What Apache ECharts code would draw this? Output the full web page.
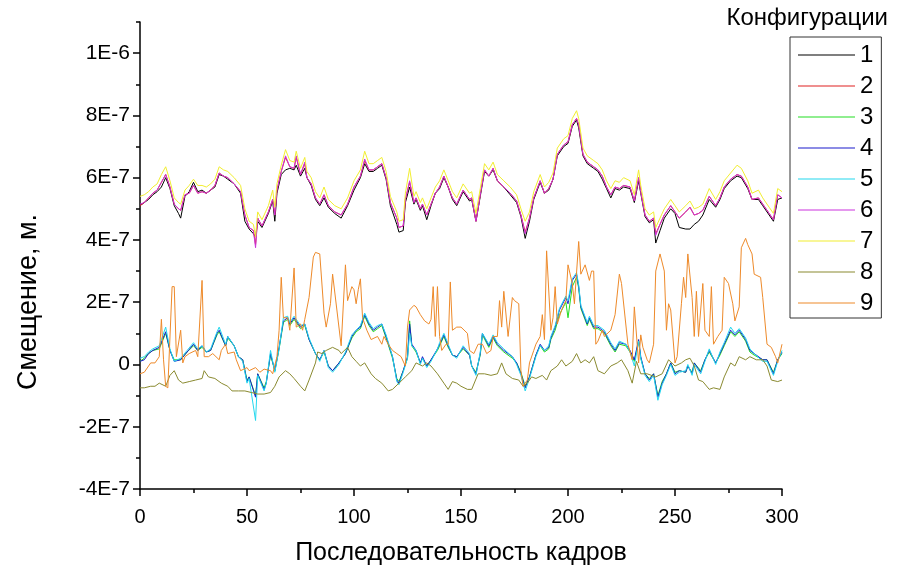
<!DOCTYPE html>
<html>
<head>
<meta charset="utf-8">
<script src="https://cdn.jsdelivr.net/npm/echarts@6/dist/echarts.min.js"></script>
<style>
html,body{margin:0;padding:0;background:#fff;}
#chart{width:903px;height:571px;}
</style>
</head>
<body>
<div id="chart"></div>
<script>
// Values are displacement in units of 1E-7 m; x is the frame number.
const seriesNames = ['1','2','3','4','5','6','7','8','9'];
const xTicks = [0, 50, 100, 150, 200, 250, 300];
const yMajorTicks = [-4, -2, 0, 2, 4, 6, 8, 10];
const yMinorTicks = [-3, -1, 1, 3, 5, 7, 9, 11];

const framesUp = [
 0,2,4,6,8,10,12,14,16,18,
 19,21,23,25,27,29,31,33,35,37,
 39,41,44,47,49,51,53,54,55,57,
 60,62,63,64,66,68,70,72,73,75,
 77,78,80,82,84,86,88,91,94,97,
 100,103,105,107,109,111,113,115,117,120,
 121,123,124,126,128,129,131,132,134,136,
 138,140,142,144,146,148,151,154,155,157,
 159,161,163,165,167,170,173,176,178,180,
 182,184,187,189,191,193,195,198,200,202,
 204,205,207,209,212,214,216,218,220,222,
 224,226,229,231,233,234,236,238,240,241,
 243,245,248,250,252,255,257,259,261,263,
 266,269,271,273,276,279,281,284,286,289,
 291,294,296,298,300];

const s1 = [
 5.1,5.2,5.3,5.45,5.55,5.7,6.0,5.65,5.1,4.85,
 4.7,5.4,5.55,5.85,5.55,5.6,5.5,5.6,5.7,6.1,
 6.05,5.95,5.8,5.5,4.6,4.35,4.2,4.1,4.6,4.4,
 4.85,5.25,4.6,5.5,6.1,6.25,6.3,6.25,6.4,6.05,
 6.3,6.0,5.75,5.3,5.1,5.35,5.05,4.85,4.7,5.1,
 5.6,6.0,6.45,6.2,6.2,6.3,6.4,5.95,5.1,4.5,
 4.25,4.3,5.2,5.7,5.15,5.3,4.95,5.1,4.65,5.1,
 5.5,5.65,6.0,5.7,5.3,5.1,5.55,5.25,5.3,4.6,
 5.4,6.2,6.05,6.25,5.9,5.7,5.45,5.2,4.75,4.05,
 4.6,5.3,5.85,5.5,5.6,5.95,6.7,7.0,7.1,7.65,
 7.85,7.6,6.7,6.45,6.3,6.2,5.95,5.65,5.35,5.65,
 5.6,5.7,5.65,5.2,5.9,5.5,4.75,4.55,4.65,3.9,
 4.3,4.7,5.0,4.85,4.4,4.35,4.35,4.5,4.6,4.8,
 5.3,5.05,5.3,5.65,5.9,6.05,6.0,5.65,5.3,5.3,
 5.1,4.8,4.6,5.3,5.35];

const s2 = [
 5.1,5.2,5.35,5.5,5.6,5.85,6.1,5.7,5.15,5.0,
 4.95,5.45,5.5,5.75,5.5,5.55,5.5,5.6,5.75,6.15,
 6.05,6.0,5.8,5.55,4.8,4.4,4.3,3.85,4.7,4.45,
 4.9,5.3,4.8,5.6,6.2,6.65,6.35,6.3,6.65,6.1,
 6.45,6.0,5.8,5.35,5.15,5.45,5.1,4.9,4.8,5.15,
 5.7,6.05,6.55,6.25,6.25,6.35,6.45,6.0,5.2,4.7,
 4.4,4.45,5.3,5.85,5.2,5.35,5.0,5.15,4.8,5.15,
 5.5,5.7,6.05,5.7,5.35,5.15,5.6,5.3,5.35,4.6,
 5.45,6.25,6.05,6.3,5.9,5.7,5.5,5.25,4.8,4.25,
 4.7,5.35,5.9,5.5,5.65,5.95,6.75,7.05,7.15,7.7,
 7.9,7.7,6.75,6.5,6.35,6.25,6.05,5.7,5.45,5.7,
 5.65,5.75,5.7,5.25,6.0,5.55,4.8,4.6,4.7,4.2,
 4.5,4.8,5.1,4.9,4.7,4.9,5.05,4.8,4.85,4.95,
 5.4,5.1,5.35,5.7,5.95,6.1,6.05,5.7,5.3,5.35,
 5.15,4.85,4.65,5.45,5.35];

const s6 = [
 5.15,5.2,5.35,5.5,5.6,5.85,6.1,5.7,5.15,5.0,
 4.95,5.45,5.5,5.75,5.5,5.55,5.5,5.6,5.75,6.15,
 6.05,6.0,5.8,5.55,4.8,4.4,4.3,3.75,4.7,4.45,
 4.9,5.3,4.8,5.6,6.2,6.7,6.35,6.3,6.7,6.1,
 6.5,6.0,5.8,5.35,5.15,5.45,5.1,4.9,4.8,5.15,
 5.7,6.05,6.6,6.25,6.25,6.35,6.45,6.0,5.2,4.7,
 4.4,4.45,5.3,5.9,5.2,5.35,5.0,5.15,4.8,5.15,
 5.5,5.7,6.05,5.7,5.35,5.15,5.6,5.3,5.35,4.6,
 5.45,6.25,6.05,6.3,5.9,5.7,5.5,5.25,4.8,4.2,
 4.7,5.35,5.9,5.5,5.65,5.95,6.75,7.05,7.15,7.7,
 7.9,7.7,6.75,6.5,6.35,6.25,6.05,5.7,5.45,5.7,
 5.65,5.75,5.7,5.25,6.0,5.55,4.8,4.6,4.7,4.15,
 4.5,4.8,5.1,4.9,4.7,4.9,5.05,4.8,4.85,4.95,
 5.4,5.1,5.35,5.7,5.95,6.1,6.05,5.7,5.3,5.35,
 5.15,4.85,4.65,5.45,5.35];

const s7 = [
 5.4,5.45,5.55,5.7,5.8,6.1,6.35,5.9,5.35,5.2,
 5.15,5.6,5.75,5.95,5.75,5.75,5.7,5.8,5.95,6.35,
 6.25,6.2,6.0,5.75,5.0,4.6,4.5,4.1,4.9,4.65,
 5.1,5.6,5.05,5.8,6.4,6.9,6.55,6.5,6.85,6.3,
 6.65,6.2,6.0,5.55,5.35,5.7,5.3,5.1,5.0,5.35,
 5.9,6.25,6.85,6.45,6.45,6.55,6.65,6.2,5.4,4.9,
 4.6,4.65,5.5,6.3,5.4,5.55,5.2,5.35,5.0,5.35,
 5.7,5.9,6.25,5.9,5.55,5.35,5.8,5.5,5.55,4.85,
 5.65,6.45,6.25,6.5,6.1,5.9,5.7,5.45,5.0,4.6,
 4.9,5.55,6.1,5.7,5.85,6.15,6.95,7.25,7.35,7.9,
 8.15,7.9,6.95,6.7,6.55,6.45,6.25,5.9,5.65,5.9,
 5.85,6.0,5.9,5.45,6.25,5.75,5.0,4.8,4.9,4.4,
 4.7,5.0,5.3,5.1,4.9,5.1,5.25,5.0,5.05,5.15,
 5.65,5.3,5.55,5.9,6.15,6.4,6.3,5.9,5.5,5.6,
 5.35,5.05,4.85,5.65,5.55];

const framesLow = [
 0,2,4,6,9,12,14,16,19,22,
 25,27,29,31,33,36,37,40,41,44,
 46,48,50,51,54,55,58,59,61,63,
 65,67,69,70,72,75,77,79,82,84,
 86,88,90,93,96,99,101,103,105,107,
 109,111,113,115,118,120,121,123,125,126,
 127,129,131,132,134,136,139,140,142,144,
 146,148,151,154,155,157,159,160,163,165,
 167,170,174,176,178,180,182,185,187,189,
 191,192,194,196,199,200,202,204,205,206,
 209,210,212,214,217,220,222,224,227,229,
 231,233,234,236,238,240,242,244,246,248,
 250,252,255,256,258,259,262,264,266,269,
 271,273,276,278,280,283,285,287,291,293,
 296,298,300];

const s3 = [
 0.1,0.2,0.35,0.45,0.5,1.0,0.45,0.15,0.15,0.4,
 0.6,0.45,0.55,0.4,0.45,0.95,1.05,0.6,0.85,0.6,
 0.25,0.15,-0.5,-0.4,-1.0,-0.3,-0.75,-0.55,0.3,-0.2,
 0.5,1.35,1.45,1.25,1.45,1.15,1.25,0.8,0.35,0.15,
 0.4,-0.05,-0.2,0.05,0.35,0.85,1.05,1.15,1.55,1.25,
 1.05,1.15,1.25,0.85,0.2,-0.45,-0.55,-0.2,0.2,1.4,
 0.6,0.4,0.05,0.2,-0.05,0.15,0.45,0.6,0.9,0.55,
 0.3,0.25,0.5,0.3,-0.05,-0.25,0.3,0.95,0.55,0.85,
 0.6,0.4,0.2,0.05,-0.25,-0.7,-0.4,0.3,0.6,0.4,
 0.5,0.8,1.1,1.6,2.0,1.5,2.5,2.8,2.45,1.8,
 1.25,1.45,1.15,1.15,1.0,0.6,0.4,0.65,0.6,0.4,
 0.1,0.75,0.2,-0.3,-0.45,-0.3,-1.0,-0.55,-0.3,0.05,
 -0.25,-0.2,-0.25,-0.05,-0.25,0.05,-0.2,0.15,0.4,0.05,
 0.3,0.6,1.05,0.9,1.05,0.75,0.4,0.3,0.15,0.15,
 -0.25,0.15,0.35];

const s4 = [
 0.1,0.15,0.35,0.45,0.55,1.05,0.45,0.1,0.15,0.4,
 0.65,0.45,0.6,0.4,0.45,1.0,1.1,0.6,0.9,0.6,
 0.25,0.15,-0.55,-0.4,-1.05,-0.3,-0.8,-0.6,0.35,-0.2,
 0.55,1.4,1.5,1.3,1.5,1.2,1.3,0.8,0.35,0.15,
 0.45,-0.05,-0.2,0.05,0.35,0.9,1.1,1.2,1.6,1.3,
 1.1,1.2,1.3,0.9,0.25,-0.5,-0.6,-0.2,0.25,1.3,
 0.65,0.45,0.05,0.25,-0.05,0.15,0.5,0.65,0.95,0.6,
 0.3,0.25,0.55,0.3,-0.05,-0.3,0.35,1.0,0.6,0.9,
 0.65,0.45,0.25,0.05,-0.3,-0.75,-0.4,0.3,0.65,0.45,
 0.55,0.85,1.2,1.75,2.15,1.95,2.7,2.9,2.5,1.85,
 1.3,1.5,1.2,1.2,1.05,0.65,0.45,0.7,0.65,0.45,
 0.15,0.8,0.25,-0.3,-0.5,-0.3,-1.05,-0.6,-0.3,0.05,
 -0.3,-0.2,-0.25,-0.05,-0.3,0.05,-0.25,0.15,0.45,0.05,
 0.35,0.65,1.1,0.95,1.1,0.8,0.45,0.35,0.15,0.15,
 -0.3,0.15,0.4];

const s5 = [
 0.2,0.25,0.4,0.5,0.6,1.2,0.5,0.1,0.2,0.45,
 0.7,0.5,0.6,0.4,0.5,1.05,1.2,0.65,0.9,0.6,
 0.25,0.1,-0.6,-0.45,-1.8,-0.35,-0.85,-0.6,0.45,-0.25,
 0.5,1.5,1.55,1.35,1.55,1.25,1.3,0.85,0.35,0.1,
 0.45,-0.1,-0.25,0.0,0.4,0.95,1.1,1.25,1.65,1.35,
 1.15,1.25,1.3,0.95,0.25,-0.55,-0.65,-0.25,0.2,1.0,
 0.6,0.45,0.0,0.2,-0.1,0.1,0.5,0.7,1.0,0.65,
 0.3,0.2,0.6,0.35,-0.05,-0.35,0.4,1.0,0.65,0.95,
 0.7,0.5,0.25,0.0,-0.35,-0.85,-0.45,0.25,0.6,0.45,
 0.6,0.9,1.25,1.8,2.2,2.05,2.75,2.95,2.55,1.9,
 1.35,1.55,1.25,1.25,1.1,0.7,0.5,0.75,0.65,0.4,
 -0.05,0.75,0.2,-0.35,-0.55,-0.35,-1.15,-0.65,-0.35,0.0,
 -0.35,-0.25,-0.2,0.0,-0.35,0.0,-0.3,0.1,0.5,0.0,
 0.4,0.7,1.2,1.0,1.15,0.85,0.5,0.35,0.1,0.1,
 -0.35,0.1,0.45];

const framesS8 = [
 0,2,5,7,9,12,14,16,18,20,
 23,26,29,30,32,35,38,41,43,46,
 49,52,55,58,61,63,65,68,70,72,
 75,77,79,82,83,85,87,90,93,94,
 97,99,101,103,105,108,110,113,116,118,
 121,124,127,129,132,134,136,139,142,144,
 146,148,150,153,155,158,161,164,167,169,
 171,174,177,179,181,183,185,188,190,192,
 195,197,199,202,204,206,208,210,212,214,
 217,220,223,225,228,230,232,234,237,241,
 244,247,250,253,255,257,259,261,263,266,
 268,271,273,276,278,280,283,285,288,291,
 293,295,298,300];

const s8 = [
 -0.75,-0.75,-0.7,-0.7,-0.6,-0.7,-0.35,-0.2,-0.5,-0.6,
 -0.55,-0.5,-0.45,-0.2,-0.4,-0.45,-0.6,-0.7,-0.85,-0.85,
 -0.85,-0.9,-0.95,-0.95,-0.9,-0.7,-0.4,-0.2,-0.3,-0.45,
 -0.7,-0.85,-0.5,0.05,0.4,0.35,0.45,0.55,0.45,0.35,
 0.55,0.25,0.1,-0.05,0.05,-0.3,-0.45,-0.6,-0.85,-0.8,
 -0.6,-0.4,-0.2,0.05,-0.05,0.05,-0.05,-0.3,-0.6,-0.8,
 -0.55,-0.6,-0.7,-0.8,-0.8,-0.3,-0.3,-0.35,-0.3,0.05,
 -0.3,-0.45,-0.5,-0.7,-0.6,-0.4,-0.45,-0.35,-0.5,-0.2,
 -0.05,0.15,-0.05,0.1,0.35,0.05,0.15,0.05,0.25,-0.2,
 -0.3,-0.05,0.05,0.15,-0.2,-0.6,0.1,-0.3,-0.3,-0.4,
 -0.3,0.15,-0.05,0.05,0.15,0.2,-0.05,-0.5,-0.55,-0.8,
 -0.75,-0.8,-0.4,0.05,-0.05,0.25,0.15,0.25,0.15,0.15,
 -0.05,-0.5,-0.55,-0.5];

const framesS9 = [
 0,2,5,7,9,10,11,12,13,15,
 16,17,19,20,21,23,26,27,29,30,
 32,34,37,38,40,41,44,45,47,50,
 51,54,56,58,61,62,64,65,66,67,
 69,70,72,73,75,76,77,79,81,82,
 84,86,87,89,90,92,94,96,97,99,
 100,101,102,103,104,106,108,111,113,114,
 116,118,120,122,124,125,126,128,129,131,
 133,135,136,137,138,139,140,141,143,144,
 145,146,148,150,153,154,156,158,160,162,
 164,165,167,168,169,170,172,174,175,177,
 178,179,181,182,184,185,187,188,189,190,
 192,193,194,195,197,199,200,202,203,205,
 206,208,210,211,212,213,214,216,217,220,
 222,224,225,227,228,230,231,233,234,235,
 237,238,240,241,243,245,246,247,248,250,
 251,253,254,255,256,258,259,260,261,263,
 264,266,267,268,270,272,273,275,277,278,
 280,281,283,284,286,287,290,291,293,295,
 297,298,300];

const s9 = [
 -0.3,-0.25,0.05,0.05,0.25,1.45,0.15,-0.7,-0.75,2.5,
 2.5,0.25,1.1,0.05,0.25,0.35,0.45,0.25,2.7,0.25,
 0.25,0.35,0.15,0.45,0.65,0.35,0.4,0.15,-0.2,-0.1,
 -0.2,-0.1,-0.25,-0.15,-0.2,-0.3,0.25,1.1,2.8,1.5,
 1.5,1.1,3.1,1.2,1.3,1.1,1.45,2.15,3.45,3.6,
 3.55,1.65,1.2,1.95,2.9,1.75,0.6,3.2,2.05,2.5,
 2.4,1.95,2.4,2.75,1.5,1.1,0.8,0.9,0.65,0.9,
 0.65,0.45,0.35,0.25,-0.05,1.2,1.75,1.9,1.85,1.6,
 1.4,1.3,1.45,2.5,0.9,2.5,0.9,0.45,0.65,0.65,
 2.65,1.1,1.2,1.2,1.0,0.45,0.35,0.65,0.65,0.35,
 0.45,0.9,0.9,2.05,1.2,2.35,0.9,2.15,2.05,1.95,
 -0.2,-0.7,-0.5,0.05,0.45,0.65,0.9,1.6,0.8,3.65,
 1.1,1.5,2.5,1.3,1.75,2.05,3.2,2.6,1.95,3.95,
 2.9,3.2,2.7,3.0,3.0,0.65,0.75,1.1,0.9,1.1,
 1.6,2.9,2.6,1.3,0.65,0.15,1.85,0.05,0.95,0.55,
 0.15,0.05,0.65,3.0,3.55,3.0,1.1,1.95,1.75,0.05,
 0.25,1.95,2.8,2.15,3.55,2.15,0.9,2.35,0.9,2.6,
 1.1,0.9,2.5,0.65,0.9,1.1,2.8,2.6,1.95,1.4,
 1.85,3.75,4.05,3.85,3.55,2.9,2.8,2.15,0.65,0.55,
 0.25,0.05,0.65];

const seriesColors = ['#000000','#e02020','#22dd22','#1a1acc','#22d8ee','#cc33dd','#f2ee30','#8a8a30','#ee8a2a'];

function pairs(xs, ys) { return xs.map(function (x, i) { return [x, ys[i]]; }); }
const seriesData = [
  pairs(framesUp, s1), pairs(framesUp, s2), pairs(framesLow, s3), pairs(framesLow, s4),
  pairs(framesLow, s5), pairs(framesUp, s6), pairs(framesUp, s7), pairs(framesS8, s8), pairs(framesS9, s9)
];

const FONT = '"Liberation Sans", Arial, sans-serif';

function yLabel(v) {
  if (v === 0) return '0';
  if (v === 10) return '1E-6';
  return v + 'E-7';
}

const chart = echarts.init(document.getElementById('chart'), null, {renderer: 'canvas'});
chart.setOption({
  animation: false,
  backgroundColor: '#ffffff',
  title: {
    text: 'Конфигурации',
    right: 10, top: 1,
    textStyle: {fontFamily: FONT, fontSize: 24, fontWeight: 'normal', color: '#000'}
  },
  legend: {
    orient: 'vertical',
    left: 790, top: 37,
    width: 90,
    padding: [6, 8, 3, 8],
    borderColor: '#333', borderWidth: 1,
    icon: 'rect',
    itemWidth: 57, itemHeight: 1, itemGap: 7,
    textStyle: {fontFamily: FONT, fontSize: 24, color: '#000', lineHeight: 24},
    data: seriesNames
  },
  grid: {left: 140, right: 121, top: 22, bottom: 78},
  xAxis: {
    type: 'value', min: 0, max: 300, interval: 50,
    name: 'Последовательность кадров',
    nameLocation: 'middle', nameGap: 52,
    nameTextStyle: {fontFamily: FONT, fontSize: 25, color: '#000'},
    axisLine: {show: true, onZero: false, lineStyle: {color: '#000', width: 1.5}},
    axisTick: {show: true, length: 7, lineStyle: {color: '#000', width: 1.5}},
    minorTick: {show: true, splitNumber: 2, length: 4, lineStyle: {color: '#000', width: 1.5}},
    axisLabel: {customValues: xTicks, fontFamily: FONT, fontSize: 20, color: '#000', margin: 18},
    splitLine: {show: false}
  },
  yAxis: [{
    type: 'value', min: -4, max: 11,
    axisLine: {show: true, onZero: false, lineStyle: {color: '#000', width: 1.5}},
    axisTick: {show: true, customValues: yMajorTicks, length: 7, lineStyle: {color: '#000', width: 1.5}},
    axisLabel: {customValues: yMajorTicks, formatter: yLabel, fontFamily: FONT, fontSize: 21, color: '#000', margin: 10},
    splitLine: {show: false}
  }, {
    type: 'value', min: -4, max: 11, position: 'left',
    axisLine: {show: false, onZero: false},
    axisTick: {show: true, customValues: yMinorTicks, length: 4, lineStyle: {color: '#000', width: 1.5}},
    axisLabel: {show: false},
    splitLine: {show: false}
  }],
  graphic: [{
    type: 'text',
    x: 29, y: 302, rotation: Math.PI / 2,
    style: {text: 'Смещение, м.', font: '27px ' + FONT, fill: '#000', align: 'center', verticalAlign: 'middle'}
  }],
  series: seriesNames.map(function (n, i) {
    return {
      name: n, type: 'line', data: seriesData[i],
      symbol: 'none', silent: true,
      lineStyle: {color: seriesColors[i], width: 1},
      itemStyle: {color: seriesColors[i]},
      z: 2
    };
  })
});
</script>
</body>
</html>
